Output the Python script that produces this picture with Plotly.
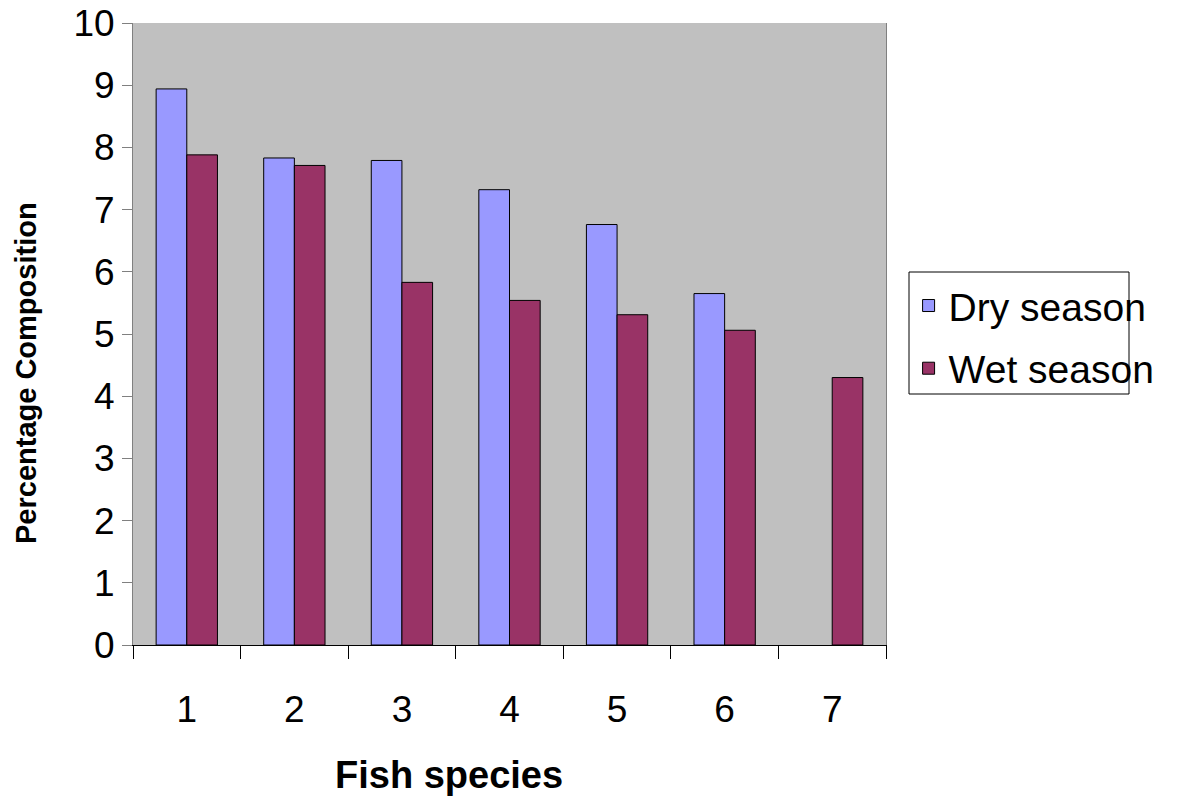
import plotly.graph_objects as go

species = ["1", "2", "3", "4", "5", "6", "7"]
dry_season = [8.94, 7.83, 7.79, 7.32, 6.76, 5.65, None]
wet_season = [7.88, 7.71, 5.83, 5.54, 5.31, 5.06, 4.30]

FONT = "Liberation Sans, Arial, sans-serif"

fig = go.Figure()
fig.add_trace(go.Bar(
    x=species, y=dry_season, name="Dry season", legendgroup="dry",
    marker=dict(color="#9999FF", line=dict(color="#000000", width=1)),
))
fig.add_trace(go.Bar(
    x=species, y=wet_season, name="Wet season", legendgroup="wet",
    marker=dict(color="#993366", line=dict(color="#000000", width=1)),
))

fig.update_layout(
    width=1177, height=799,
    margin=dict(l=133, r=291, t=23, b=154),
    paper_bgcolor="white",
    plot_bgcolor="#C0C0C0",
    barmode="group",
    bargap=0.43,
    bargroupgap=0,
    font=dict(family=FONT, color="black", size=37),
    showlegend=True,
    legend=dict(
        x=1.03, y=0.597, xanchor="left", yanchor="top",
        bgcolor="rgba(0,0,0,0)", borderwidth=0,
        font=dict(size=39, family=FONT),
        tracegroupgap=9,
        itemwidth=30,
    ),
    shapes=[
        # legend frame
        dict(type="rect", xref="paper", yref="paper",
             x0=(909 - 133) / 753, x1=(1129 - 133) / 753,
             y0=(645 - 394) / 622, y1=(645 - 272) / 622,
             line=dict(color="black", width=1), fillcolor="rgba(0,0,0,0)"),
    ],
    annotations=[
        dict(text="<b>Fish species</b>", xref="paper", yref="paper",
             x=(449 - 133) / 753, y=(645 - 775) / 622,
             xanchor="center", yanchor="middle", showarrow=False,
             font=dict(size=38, family=FONT)),
        dict(text="<b>Percentage Composition</b>", xref="paper", yref="paper",
             x=(26 - 133) / 753, y=(645 - 373) / 622, textangle=-90,
             xanchor="center", yanchor="middle", showarrow=False,
             font=dict(size=29, family=FONT)),
    ],
)

fig.update_xaxes(
    type="category",
    automargin=False,
    tickson="boundaries",
    ticks="outside", ticklen=13, tickcolor="black", tickwidth=1,
    ticklabelstandoff=32,
    showline=True, linecolor="black", linewidth=1,
    showgrid=False,
    tickfont=dict(size=37),
)
fig.update_yaxes(
    range=[0, 10], dtick=1,
    automargin=False,
    ticks="outside", ticklen=10, tickcolor="#808080", tickwidth=1,
    showline=True, linecolor="#808080", linewidth=1, mirror=True,
    showgrid=False, zeroline=False,
    tickfont=dict(size=37),
)

fig.write_html("out.html")
